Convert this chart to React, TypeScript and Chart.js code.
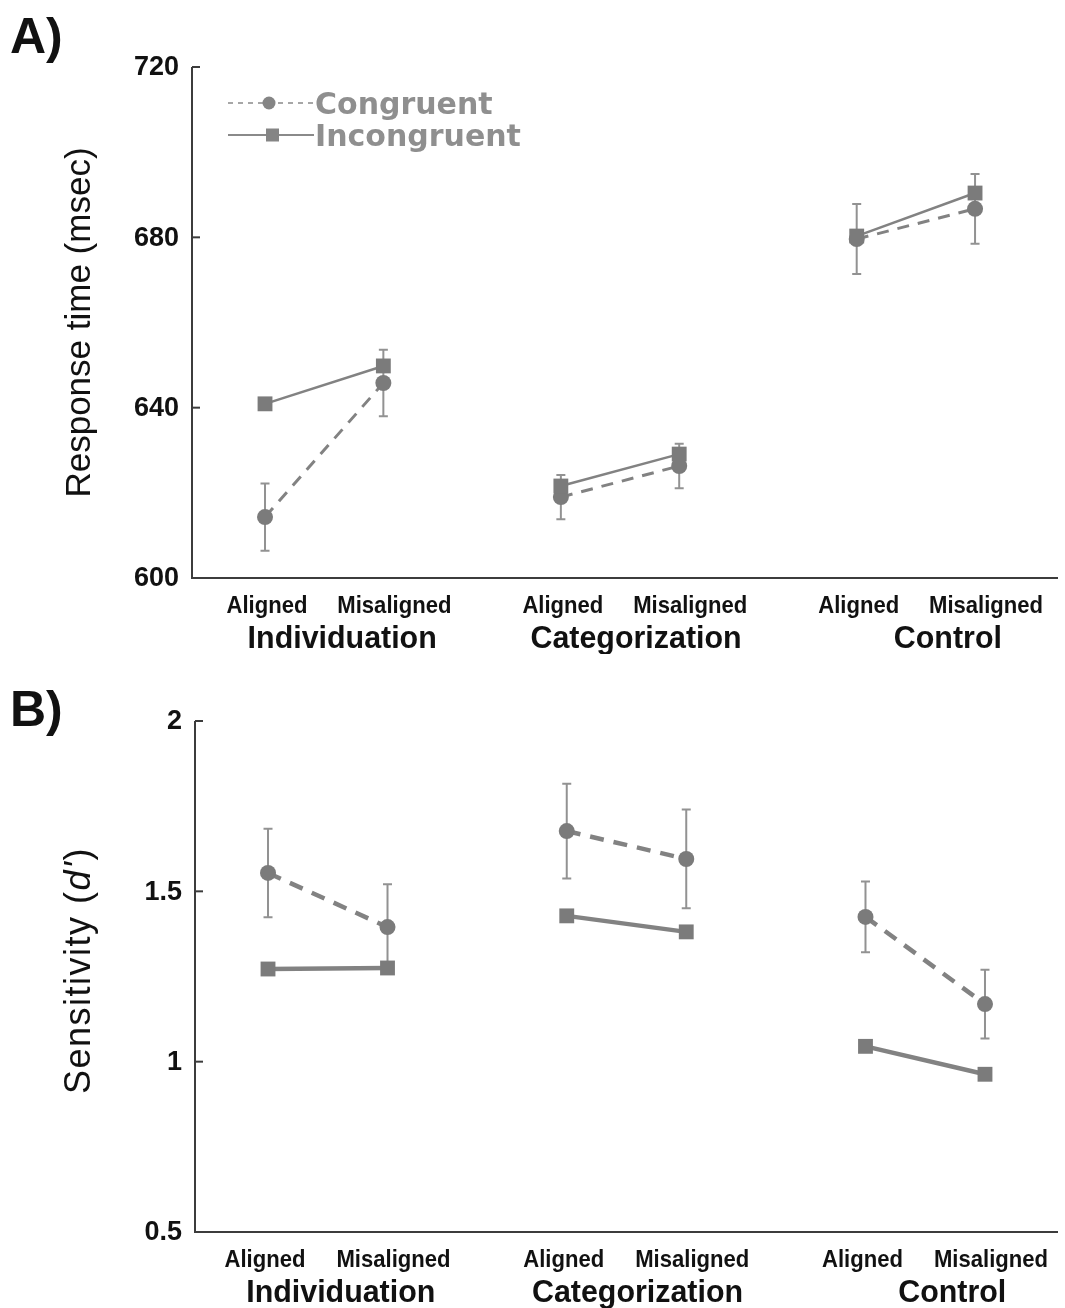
import React, { useEffect, useRef } from "react";
import { Chart, registerables } from "chart.js";

Chart.register(...registerables);

// ---------- data ----------
const GROUPS = ["Individuation", "Categorization", "Control"];
const CONDITIONS = ["Aligned", "Misaligned"];
const SERIES = ["Congruent", "Incongruent"];

// Panel A: response time (msec), order: Ind-Al, Ind-Mis, Cat-Al, Cat-Mis, Con-Al, Con-Mis
const RT_CONGRUENT = [614.3, 645.8, 619.0, 626.3, 679.6, 686.7];
const RT_INCONGRUENT = [640.9, 649.8, 621.6, 629.1, 680.3, 690.4];
const RT_CONGRUENT_ERR = [7.9, 7.8, 5.2, 5.2, 8.2, 8.2];
const RT_TICKS = [600, 640, 680, 720];

// Panel B: sensitivity d'
const DP_CONGRUENT = [1.554, 1.395, 1.677, 1.595, 1.425, 1.169];
const DP_INCONGRUENT = [1.272, 1.275, 1.428, 1.381, 1.045, 0.963];
const DP_CONGRUENT_ERR = [0.13, 0.126, 0.139, 0.145, 0.104, 0.101];
const DP_TICKS = [0.5, 1, 1.5, 2];

// ---------- layout ----------
const W = 1065;
const H = 654;
const GROUP_STEP = 2.5;
const GROUP_LABEL_SHIFT = [18, 16, 32];
const COND_LABEL_SHIFT = [2, 11];
const FONT = '"Liberation Sans", Arial, Helvetica, sans-serif';
const LEGEND_FONT = '"DejaVu Sans", Verdana, sans-serif';
const MARK = "#7b7b7b";
const LINE = "#828282";
const ERR = "#929292";
const AXIS = "#3c3c3c";

const pos = (g: number, c: number) => g * GROUP_STEP + c;

type Spec = {
  id: string;
  letter: string;
  congruent: number[];
  incongruent: number[];
  err: number[];
  ticks: number[];
  yMin: number;
  yMax: number;
  xMin: number;
  xMax: number;
  left: number;
  legend: boolean;
  title: "rt" | "dp";
  dashW: number;
  solidW: number;
  dash: number[];
  labelDx: number;
  letterY: number;
  titleDy: number;
};

function scaledText(ctx: CanvasRenderingContext2D, text: string, x: number, y: number, sx: number) {
  ctx.save();
  ctx.translate(x, y);
  ctx.scale(sx, 1);
  ctx.fillText(text, 0, 0);
  ctx.restore();
}

function makePlugin(spec: Spec) {
  return {
    id: "decor_" + spec.id,
    beforeDatasetsDraw(chart: any) {
      const { ctx, scales } = chart;
      const xs = scales.x, ys = scales.y;
      ctx.save();
      ctx.strokeStyle = ERR;
      ctx.lineWidth = 2;
      spec.congruent.forEach((v, i) => {
        const g = Math.floor(i / 2), c = i % 2;
        const x = xs.getPixelForValue(pos(g, c));
        const y1 = ys.getPixelForValue(v + spec.err[i]);
        const y2 = ys.getPixelForValue(v - spec.err[i]);
        ctx.beginPath();
        ctx.moveTo(x, y1);
        ctx.lineTo(x, y2);
        ctx.moveTo(x - 4.5, y1);
        ctx.lineTo(x + 4.5, y1);
        ctx.moveTo(x - 4.5, y2);
        ctx.lineTo(x + 4.5, y2);
        ctx.stroke();
      });
      ctx.restore();
    },
    afterDraw(chart: any) {
      const { ctx, chartArea: ca, scales } = chart;
      const xs = scales.x, ys = scales.y;
      ctx.save();
      // axes
      ctx.strokeStyle = AXIS;
      ctx.lineWidth = 2;
      ctx.beginPath();
      ctx.moveTo(ca.left, ys.getPixelForValue(spec.yMax));
      ctx.lineTo(ca.left, ca.bottom);
      ctx.lineTo(ca.right, ca.bottom);
      ctx.stroke();
      spec.ticks.forEach((t) => {
        const y = ys.getPixelForValue(t);
        ctx.beginPath();
        ctx.moveTo(ca.left, y);
        ctx.lineTo(ca.left + 8, y);
        ctx.stroke();
      });
      // y tick labels
      ctx.fillStyle = "#111";
      ctx.font = `bold 27px ${FONT}`;
      ctx.textAlign = "right";
      ctx.textBaseline = "middle";
      spec.ticks.forEach((t) => {
        ctx.fillText(String(t), ca.left - 13, ys.getPixelForValue(t) + 1);
      });
      // x condition labels & group labels
      ctx.textAlign = "center";
      GROUPS.forEach((gName, g) => {
        ctx.font = `bold 24px ${FONT}`;
        CONDITIONS.forEach((cName, c) => {
          const x = xs.getPixelForValue(pos(g, c)) + COND_LABEL_SHIFT[c] + spec.labelDx;
          scaledText(ctx, cName, x, ca.bottom + 28, 0.92);
        });
        ctx.font = `bold 32px ${FONT}`;
        const gx = xs.getPixelForValue(pos(g, 0.5)) + GROUP_LABEL_SHIFT[g] + spec.labelDx;
        scaledText(ctx, gName, gx, ca.bottom + 61, 0.95);
      });
      // panel letter
      ctx.textAlign = "left";
      ctx.textBaseline = "alphabetic";
      ctx.font = `bold 50px ${FONT}`;
      ctx.fillText(spec.letter, 10, spec.letterY);
      // y title
      ctx.save();
      const cy = (ca.top + ca.bottom) / 2 + spec.titleDy;
      ctx.translate(80, cy);
      ctx.rotate(-Math.PI / 2);
      ctx.textBaseline = "middle";
      ctx.fillStyle = "#111";
      if (spec.title === "rt") {
        ctx.font = `35px ${FONT}`;
        ctx.textAlign = "center";
        ctx.fillText("Response time (msec)", 0, 0);
      } else {
        const parts: [string, string][] = [
          ["Sensitivity (", `36px ${FONT}`],
          ["d'", `italic 36px ${FONT}`],
          [")", `36px ${FONT}`],
        ];
        (ctx as any).letterSpacing = "1.5px";
        let total = 0;
        parts.forEach(([t, f]) => { ctx.font = f; total += ctx.measureText(t).width; });
        let x = -total / 2;
        ctx.textAlign = "left";
        parts.forEach(([t, f]) => { ctx.font = f; ctx.fillText(t, x, 0); x += ctx.measureText(t).width; });
        (ctx as any).letterSpacing = "0px";
      }
      ctx.restore();
      // legend
      if (spec.legend) {
        const rows = [
          { y: 103, base: 114, name: SERIES[0], dash: [5, 5], lw: 1.5, shape: "circle" },
          { y: 135, base: 145.5, name: SERIES[1], dash: [], lw: 2, shape: "rect" },
        ];
        rows.forEach((r) => {
          ctx.strokeStyle = "#8a8a8a";
          ctx.fillStyle = "#858585";
          ctx.lineWidth = r.lw;
          ctx.setLineDash(r.dash);
          ctx.beginPath();
          ctx.moveTo(228, r.y);
          ctx.lineTo(314, r.y);
          ctx.stroke();
          ctx.setLineDash([]);
          if (r.shape === "circle") {
            ctx.beginPath();
            ctx.arc(269, r.y, 6.5, 0, Math.PI * 2);
            ctx.fill();
          } else {
            ctx.fillRect(266, r.y - 6.5, 13, 13);
          }
          ctx.fillStyle = "#8f8f8f";
          ctx.font = `bold 30px ${LEGEND_FONT}`;
          ctx.textAlign = "left";
          ctx.textBaseline = "alphabetic";
          ctx.fillText(r.name, 315, r.base);
        });
      }
      ctx.restore();
    },
  };
}

function buildDatasets(spec: Spec) {
  const sets: any[] = [];
  GROUPS.forEach((_, g) => {
    sets.push({
      label: SERIES[1],
      order: 0,
      data: CONDITIONS.map((__, c) => ({ x: pos(g, c), y: spec.incongruent[g * 2 + c] })),
      borderColor: LINE,
      borderWidth: spec.solidW,
      pointStyle: "rect",
      pointRadius: 10.5,
      pointBackgroundColor: MARK,
      pointBorderWidth: 0,
      clip: false,
    });
    sets.push({
      label: SERIES[0],
      order: 1,
      data: CONDITIONS.map((__, c) => ({ x: pos(g, c), y: spec.congruent[g * 2 + c] })),
      borderColor: LINE,
      borderWidth: spec.dashW,
      borderDash: spec.dash,
      pointStyle: "circle",
      pointRadius: 8,
      pointBackgroundColor: MARK,
      pointBorderWidth: 0,
      clip: false,
    });
  });
  return sets;
}

function Panel({ spec }: { spec: Spec }) {
  const ref = useRef<HTMLCanvasElement | null>(null);
  useEffect(() => {
    if (!ref.current) return;
    const chart = new Chart(ref.current, {
      type: "line",
      data: { datasets: buildDatasets(spec) },
      options: {
        responsive: false,
        animation: false,
        devicePixelRatio: 1,
        layout: {
          autoPadding: false,
          padding: { left: spec.left, top: 67, right: W - 1058, bottom: H - 578 },
        },
        plugins: { legend: { display: false }, tooltip: { enabled: false }, title: { display: false } },
        scales: {
          x: { type: "linear", min: spec.xMin, max: spec.xMax, display: false },
          y: { type: "linear", min: spec.yMin, max: spec.yMax, display: false },
        },
      } as any,
      plugins: [makePlugin(spec)],
    });
    return () => chart.destroy();
  }, [spec]);
  return <canvas ref={ref} width={W} height={H} style={{ display: "block", width: W, height: H }} />;
}

const SPEC_A: Spec = {
  id: "A",
  letter: "A)",
  congruent: RT_CONGRUENT,
  incongruent: RT_INCONGRUENT,
  err: RT_CONGRUENT_ERR,
  ticks: RT_TICKS,
  yMin: 600,
  yMax: 720,
  xMin: -0.617,
  xMax: 6.701,
  left: 192,
  legend: true,
  title: "rt",
  dashW: 3,
  solidW: 2.5,
  dash: [12, 9],
  labelDx: 0,
  letterY: 53,
  titleDy: 0,
};

const SPEC_B: Spec = {
  id: "B",
  letter: "B)",
  congruent: DP_CONGRUENT,
  incongruent: DP_INCONGRUENT,
  err: DP_CONGRUENT_ERR,
  ticks: DP_TICKS,
  yMin: 0.5,
  yMax: 2,
  xMin: -0.611,
  xMax: 6.611,
  left: 195,
  legend: false,
  title: "dp",
  dashW: 4.5,
  solidW: 4.5,
  dash: [14, 10],
  labelDx: -5,
  letterY: 72,
  titleDy: -6,
};

export default function App() {
  return (
    <div style={{ position: "absolute", left: 0, top: 0, width: W, height: 2 * H, background: "#fff" }}>
      <Panel spec={SPEC_A} />
      <Panel spec={SPEC_B} />
    </div>
  );
}
